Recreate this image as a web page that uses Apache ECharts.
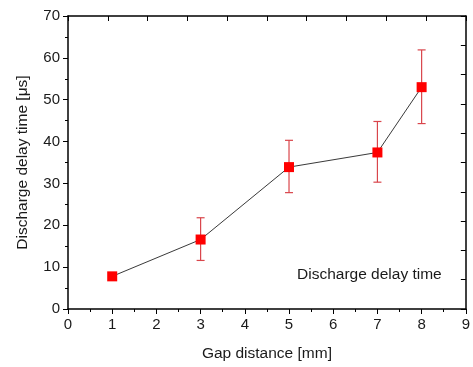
<!DOCTYPE html>
<html><head><meta charset="utf-8">
<script src="https://cdn.jsdelivr.net/npm/echarts@6/dist/echarts.min.js"></script>
<style>html,body{margin:0;padding:0;background:#fff}#c{width:473px;height:367px}</style>
</head><body><div id="c"></div>
<script>
const gaps = [1, 3, 5, 7, 8];
const delays = [7.8, 16.6, 33.9, 37.4, 53.0];
const errLow = [7.8, 11.6, 27.8, 30.3, 44.3];
const errHigh = [7.8, 21.8, 40.3, 44.8, 61.9];
const xTicks = [0,1,2,3,4,5,6,7,8,9];
const yTicks = [0,10,20,30,40,50,60,70];

const chart = echarts.init(document.getElementById('c'));
const font = 'Liberation Sans, Arial, sans-serif';
const axisLine = {show: true, onZero: false, lineStyle: {color: '#000', width: 1.5}};
const tickStyle = {color: '#000', width: 1};
chart.setOption({
  animation: false,
  grid: {left: 68, right: 6, top: 16, bottom: 56},
  xAxis: [{
    type: 'value', min: 0, max: 9, interval: 1,
    name: 'Gap distance [mm]', nameLocation: 'middle', nameGap: 37,
    nameTextStyle: {fontFamily: font, fontSize: 15.5, color: '#1a1a1a'},
    axisLine: axisLine,
    axisTick: {show: true, inside: false, length: 5, lineStyle: tickStyle},
    minorTick: {show: true, splitNumber: 2, length: 3, lineStyle: tickStyle},
    axisLabel: {fontFamily: font, fontSize: 15, color: '#1a1a1a', margin: 8},
    splitLine: {show: false}
  }, {
    type: 'value', min: 0, max: 10, interval: 1, position: 'top',
    axisLine: axisLine,
    axisTick: {show: true, inside: true, length: 5, lineStyle: tickStyle},
    axisLabel: {show: false}, splitLine: {show: false}
  }],
  yAxis: [{
    type: 'value', min: 0, max: 70, interval: 10,
    name: 'Discharge delay time [\u03bcs]', nameLocation: 'middle', nameGap: 37,
    nameTextStyle: {fontFamily: font, fontSize: 15.5, color: '#1a1a1a'},
    axisLine: axisLine,
    axisTick: {show: true, inside: false, length: 5, lineStyle: tickStyle},
    minorTick: {show: true, splitNumber: 2, length: 3, lineStyle: tickStyle},
    axisLabel: {fontFamily: font, fontSize: 15, color: '#1a1a1a', margin: 8},
    splitLine: {show: false}
  }, {
    type: 'value', min: 0, max: 10, interval: 1, position: 'right',
    axisLine: axisLine,
    axisTick: {show: true, inside: true, length: 5, lineStyle: tickStyle},
    axisLabel: {show: false}, splitLine: {show: false}
  }],
  graphic: [{
    type: 'text', left: 297, top: 267,
    style: {text: 'Discharge delay time', fontFamily: font, fontSize: 15.5, fill: '#1a1a1a'}
  }],
  series: [{
    type: 'custom',
    name: 'err',
    data: gaps.map((g, i) => [g, errLow[i], errHigh[i]]),
    renderItem: function (params, api) {
      const x = api.value(0);
      const lo = api.coord([x, api.value(1)]);
      const hi = api.coord([x, api.value(2)]);
      if (Math.abs(lo[1] - hi[1]) < 1) return null;
      const w = 4;
      const st = {stroke: '#d9454b', lineWidth: 1.2};
      return {type: 'group', children: [
        {type: 'line', shape: {x1: lo[0], y1: lo[1], x2: hi[0], y2: hi[1]}, style: st},
        {type: 'line', shape: {x1: lo[0]-w, y1: lo[1], x2: lo[0]+w, y2: lo[1]}, style: st},
        {type: 'line', shape: {x1: hi[0]-w, y1: hi[1], x2: hi[0]+w, y2: hi[1]}, style: st}
      ]};
    },
    z: 2
  }, {
    type: 'line',
    data: gaps.map((g, i) => [g, delays[i]]),
    symbol: 'rect', symbolSize: 10,
    itemStyle: {color: '#ff0000'},
    lineStyle: {color: '#222', width: 0.9},
    z: 3
  }]
});
</script></body></html>
